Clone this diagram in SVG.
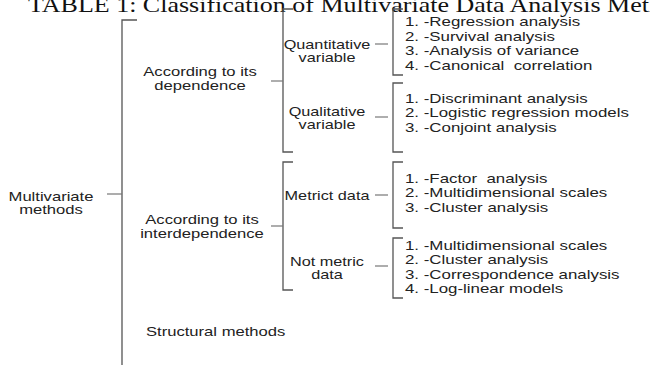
<svg xmlns="http://www.w3.org/2000/svg" width="650" height="365" viewBox="0 0 650 365">
<style>
.t{font-family:"Liberation Sans",Arial,sans-serif;font-size:12.5px;fill:#222;white-space:pre}
.m{text-anchor:middle}
.ttl{font-family:"Liberation Serif","Times New Roman",serif;font-size:20px;fill:#111}
.br{fill:none;stroke:#555;stroke-width:1.3}
.tk{fill:none;stroke:#777;stroke-width:1.2}
</style>
<rect width="650" height="365" fill="#fff"/>
<g id="title"><text class="ttl" transform="translate(28 12) scale(1.3 1)">TABLE 1: Classification of Multivariate Data Analysis Methods</text></g>
<g id="connectors">
<path class="br" d="M137,20 H122 V366"/><path class="tk" d="M107,194 H122"/>
<path class="br" d="M293,9 H283 V152 H293"/><path class="tk" d="M271,81 H283"/>
<path class="br" d="M293,162 H283 V290 H293"/><path class="tk" d="M271,226 H283"/>
<path class="br" d="M403,9 H393 V75 H403"/><path class="tk" d="M375,44 H388"/>
<path class="br" d="M403,83 H393 V152 H403"/><path class="tk" d="M375,117 H388"/>
<path class="br" d="M403,162 H393 V228 H403"/><path class="tk" d="M375,195 H388"/>
<path class="br" d="M403,238 H393 V298 H403"/><path class="tk" d="M375,266 H388"/>
</g>
<g id="n-root"><text class="t m" transform="translate(51 200.5) scale(1.33 1)">Multivariate</text><text class="t m" transform="translate(51 213.5) scale(1.33 1)">methods</text></g>
<g id="n-dep"><text class="t m" transform="translate(200 75.5) scale(1.33 1)">According to its</text><text class="t m" transform="translate(200 89.5) scale(1.33 1)">dependence</text></g>
<g id="n-interdep"><text class="t m" transform="translate(202 224) scale(1.33 1)">According to its</text><text class="t m" transform="translate(202 238) scale(1.33 1)">interdependence</text></g>
<g id="n-struct"><text class="t" transform="translate(146 335.5) scale(1.33 1)">Structural methods</text></g>
<g id="n-quant"><text class="t m" transform="translate(327 48.5) scale(1.3 1)">Quantitative</text><text class="t m" transform="translate(327 62) scale(1.3 1)">variable</text></g>
<g id="n-qual"><text class="t m" transform="translate(327 115.5) scale(1.3 1)">Qualitative</text><text class="t m" transform="translate(327 129) scale(1.3 1)">variable</text></g>
<g id="n-metric"><text class="t m" transform="translate(327 199.5) scale(1.3 1)">Metrict data</text></g>
<g id="n-nonmetric"><text class="t m" transform="translate(327 265.5) scale(1.3 1)">Not metric</text><text class="t m" transform="translate(327 279) scale(1.3 1)">data</text></g>
<g id="l-quant"><text class="t" transform="translate(405 26) scale(1.35 1)">1. -Regression analysis</text><text class="t" transform="translate(405 40.5) scale(1.35 1)">2. -Survival analysis</text><text class="t" transform="translate(405 55) scale(1.35 1)">3. -Analysis of variance</text><text class="t" transform="translate(405 69.5) scale(1.35 1)">4. -Canonical  correlation</text></g>
<g id="l-qual"><text class="t" transform="translate(405 102.5) scale(1.35 1)">1. -Discriminant analysis</text><text class="t" transform="translate(405 117) scale(1.35 1)">2. -Logistic regression models</text><text class="t" transform="translate(405 131.5) scale(1.35 1)">3. -Conjoint analysis</text></g>
<g id="l-metric"><text class="t" transform="translate(405 182.5) scale(1.35 1)">1. -Factor  analysis</text><text class="t" transform="translate(405 197) scale(1.35 1)">2. -Multidimensional scales</text><text class="t" transform="translate(405 211.5) scale(1.35 1)">3. -Cluster analysis</text></g>
<g id="l-nonmetric"><text class="t" transform="translate(405 249.5) scale(1.35 1)">1. -Multidimensional scales</text><text class="t" transform="translate(405 264) scale(1.35 1)">2. -Cluster analysis</text><text class="t" transform="translate(405 278.5) scale(1.35 1)">3. -Correspondence analysis</text><text class="t" transform="translate(405 293) scale(1.35 1)">4. -Log-linear models</text></g>
</svg>
